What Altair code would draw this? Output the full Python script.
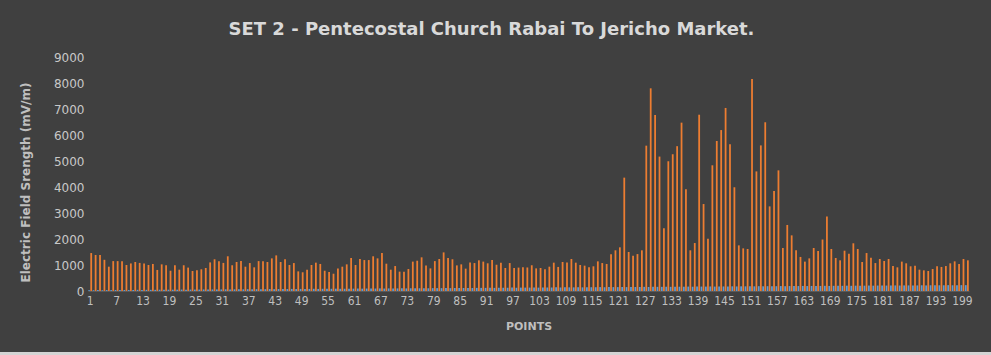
import altair as alt
import pandas as pd

points = list(range(1, 201))

field_strength = [
    1460, 1385, 1385, 1200, 935, 1150, 1150, 1140, 1000, 1060,
    1115, 1080, 1060, 1000, 1040, 810, 1025, 990, 780, 990,
    820, 990, 900, 770, 795, 835, 885, 1100, 1220, 1140,
    1080, 1335, 990, 1115, 1150, 935, 1075, 910, 1150, 1140,
    1115, 1255, 1370, 1115, 1220, 1000, 1075, 755, 720, 820,
    1000, 1090, 1040, 780, 730, 665, 870, 935, 1025, 1270,
    1000, 1230, 1190, 1190, 1335, 1255, 1460, 1050, 820, 960,
    745, 745, 845, 1130, 1165, 1295, 985, 870, 1150, 1230,
    1485, 1270, 1220, 985, 1025, 860, 1100, 1075, 1180, 1130,
    1065, 1190, 1010, 1090, 885, 1075, 885, 900, 910, 905,
    990, 870, 885, 835, 935, 1090, 925, 1115, 1100, 1230,
    1090, 1000, 975, 910, 950, 1140, 1075, 1040, 1410, 1565,
    1680, 4360, 1500, 1360, 1420, 1565, 5590, 7795, 6770, 5170,
    2410, 4990, 5260, 5570, 6475, 3910, 1565, 1845, 6780, 3345,
    2010, 4835, 5770, 6190, 7040, 5640, 3990, 1755, 1640, 1615,
    8155, 4600, 5600, 6490, 3255, 3845, 4640, 1655, 2540, 2140,
    1565, 1310, 1130, 1255, 1655, 1540, 1980, 2870, 1615, 1270,
    1180, 1550, 1435, 1835, 1615, 1115, 1460, 1280, 1075, 1230,
    1155, 1230, 960, 910, 1130, 1065, 950, 975, 820, 795,
    770, 845, 950, 925, 960, 1065, 1140, 1040, 1230, 1180,
]

secondary = [
    30, 30, 35, 30, 35, 35, 40, 35, 40, 40,
    40, 45, 40, 45, 45, 45, 50, 45, 50, 50,
    50, 55, 50, 55, 55, 55, 60, 55, 60, 60,
    60, 65, 60, 65, 65, 65, 70, 65, 70, 70,
    70, 75, 70, 75, 75, 75, 80, 75, 80, 80,
    80, 85, 80, 85, 85, 85, 90, 85, 90, 90,
    90, 95, 90, 95, 95, 95, 100, 95, 100, 100,
    100, 105, 100, 105, 105, 105, 110, 105, 110, 110,
    110, 115, 110, 115, 115, 115, 120, 115, 120, 120,
    120, 125, 120, 125, 125, 125, 130, 125, 130, 130,
    130, 135, 130, 135, 135, 135, 140, 135, 140, 140,
    140, 145, 140, 145, 145, 145, 150, 145, 150, 150,
    150, 155, 150, 155, 155, 155, 160, 155, 160, 160,
    160, 165, 160, 165, 165, 165, 170, 165, 170, 170,
    170, 175, 170, 175, 175, 175, 180, 175, 180, 180,
    180, 180, 185, 180, 185, 185, 185, 190, 185, 190,
    190, 190, 195, 190, 195, 195, 195, 200, 195, 200,
    200, 200, 205, 200, 205, 205, 205, 210, 205, 210,
    210, 210, 210, 215, 210, 215, 215, 215, 215, 220,
    215, 220, 220, 220, 220, 225, 220, 225, 225, 225,
]

x_tick_values = list(range(1, 201, 6))

rows = []
for p, b, o in zip(points, secondary, field_strength):
    rows.append({"point": p, "series": "A", "value": b})
    rows.append({"point": p, "series": "B", "value": o})
df = pd.DataFrame(rows)

BG = "#404040"
TXT = "#bfbfbf"

bars = alt.Chart(df).mark_bar().encode(
    x=alt.X(
        "point:O",
        title="POINTS",
        scale=alt.Scale(paddingInner=0.12, paddingOuter=0.05),
        axis=alt.Axis(
            values=x_tick_values,
            labelAngle=0,
            labelFont="DejaVu Sans Condensed",
            labelFontSize=12,
            labelColor=TXT,
            labelPadding=4,
            ticks=False,
            domain=True,
            domainColor="#5a5a5a",
            titleFont="DejaVu Sans",
            titleFontWeight="bold",
            titleFontSize=11,
            titleColor=TXT,
            titleY=35,
            titleBaseline="middle",
            labelOverlap=False,
        ),
    ),
    xOffset=alt.XOffset("series:N", scale=alt.Scale(paddingInner=0.15)),
    y=alt.Y(
        "value:Q",
        title="Electric Field Srength (mV/m)",
        scale=alt.Scale(domain=[0, 9000], nice=False),
        axis=alt.Axis(
            values=list(range(0, 9001, 1000)),
            format="d",
            grid=False,
            ticks=False,
            domain=False,
            labelFont="DejaVu Sans",
            labelFontSize=12,
            labelColor="#c8c8c8",
            labelPadding=4,
            titleFont="DejaVu Sans",
            titleFontWeight="bold",
            titleFontSize=12,
            titleColor=TXT,
            titleX=-63,
            titleY=125,
            titleAngle=-90,
            titleAlign="center",
            titleBaseline="middle",
        ),
    ),
    color=alt.Color(
        "series:N",
        scale=alt.Scale(domain=["A", "B"], range=["#5b9bd5", "#ed7d31"]),
        legend=None,
    ),
)

strip = alt.Chart(pd.DataFrame({"k": [0]})).mark_rect(color="#d4d4d4", clip=False).encode(
    x=alt.value(-88), x2=alt.value(903), y=alt.value(295), y2=alt.value(300)
)

chart = alt.layer(bars, strip).properties(
    width=881,
    height=234,
    background=BG,
    padding={"left": 88, "top": 57, "right": 22, "bottom": 64},
    autosize=alt.AutoSizeParams(type="none"),
    title=alt.TitleParams(
        "SET 2 - Pentecostal Church Rabai To Jericho Market.",
        font="DejaVu Sans",
        fontSize=18,
        fontWeight="bold",
        color="#d9d9d9",
        anchor="middle",
        dx=-37,
        offset=12,
    ),
).configure_view(stroke=None)

chart.save("out.html", embed_options={"renderer": "svg", "actions": False})
